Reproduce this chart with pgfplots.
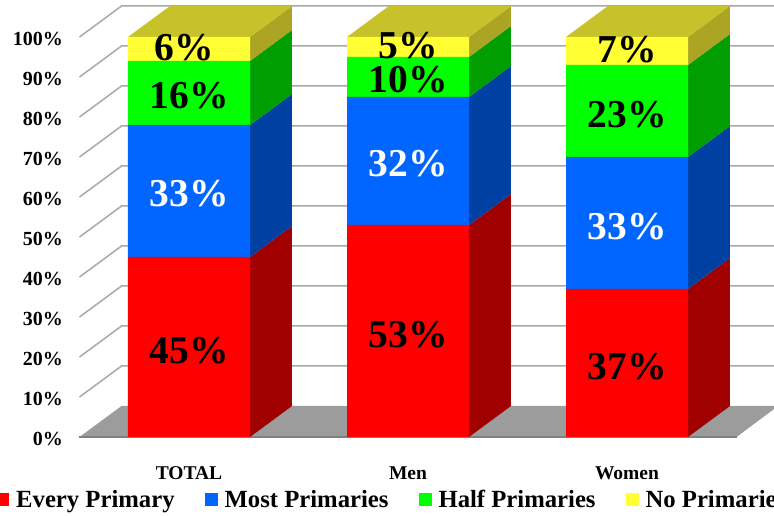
\documentclass[border=0pt]{standalone}
\usepackage{fontspec}
\setmainfont{Liberation Serif}
\usepackage{pgfplots}
\pgfplotsset{compat=1.18}

\definecolor{cred}{HTML}{FF0000}
\definecolor{cblue}{HTML}{0066FF}
\definecolor{cgreen}{HTML}{00FF00}
\definecolor{cyellow}{HTML}{FFFF33}
\definecolor{dred}{HTML}{A00000}
\definecolor{dblue}{HTML}{0040A3}
\definecolor{dgreen}{HTML}{009E00}
\definecolor{dyellow}{HTML}{ABA523}
\definecolor{ctop}{HTML}{C8C22A}
\definecolor{cfloor}{HTML}{9C9C9C}
\definecolor{cgrid}{HTML}{A8A8A8}

\newcommand{\fs}[1]{\fontsize{#1}{#1}\selectfont\bfseries}

\pgfplotsset{
    base/.style={
        at={(79.5pt,79pt)}, anchor=south west,
        scale only axis,
        width=657pt, height=431pt,
        xmin=-0.5, xmax=2.5,
        ymin=0, ymax=107.75,
        clip=false,
    },
}

\begin{document}
\begin{tikzpicture}
\path[use as bounding box,clip] (0pt,0pt) rectangle (774pt,516pt);

% floor, walls, side and top faces
\begin{axis}[
    base,
    axis line style={draw=none},
    major tick length=0pt,
    xtick={0,1,2},
    xticklabels={TOTAL,Men,Women},
    x tick label style={font=\fs{19.5}, yshift=-26pt},
    ytick={0,10,...,100},
    yticklabels={0\%,10\%,20\%,30\%,40\%,50\%,60\%,70\%,80\%,90\%,100\%},
    y tick label style={font=\fs{20}, xshift=-13pt, yshift=-2pt},
]
    \addplot[draw=none, fill=cfloor] coordinates {(-0.5,0)(-0.308,7.75)(2.69,7.75)(2.5,0)} -- cycle;
    \addplot[line width=2pt, color=gray] coordinates {(-0.5,0)(2.5,0)};

    \addplot[cgrid, line width=1.5pt] coordinates {(-0.5,10)(-0.308,17.75)(2.7,17.75)};
    \addplot[cgrid, line width=1.5pt] coordinates {(-0.5,20)(-0.308,27.75)(2.7,27.75)};
    \addplot[cgrid, line width=1.5pt] coordinates {(-0.5,30)(-0.308,37.75)(2.7,37.75)};
    \addplot[cgrid, line width=1.5pt] coordinates {(-0.5,40)(-0.308,47.75)(2.7,47.75)};
    \addplot[cgrid, line width=1.5pt] coordinates {(-0.5,50)(-0.308,57.75)(2.7,57.75)};
    \addplot[cgrid, line width=1.5pt] coordinates {(-0.5,60)(-0.308,67.75)(2.7,67.75)};
    \addplot[cgrid, line width=1.5pt] coordinates {(-0.5,70)(-0.308,77.75)(2.7,77.75)};
    \addplot[cgrid, line width=1.5pt] coordinates {(-0.5,80)(-0.308,87.75)(2.7,87.75)};
    \addplot[cgrid, line width=1.5pt] coordinates {(-0.5,90)(-0.308,97.75)(2.7,97.75)};
    \addplot[cgrid, line width=1.5pt] coordinates {(-0.5,100)(-0.308,107.75)(2.7,107.75)};

    % TOTAL sides
    \addplot[draw=none, fill=dred] coordinates {(0.2785,0)(0.4703,7.75)(0.4703,52.75)(0.2785,45)} -- cycle;
    \addplot[draw=none, fill=dblue] coordinates {(0.2785,45)(0.4703,52.75)(0.4703,85.75)(0.2785,78)} -- cycle;
    \addplot[draw=none, fill=dgreen] coordinates {(0.2785,78)(0.4703,85.75)(0.4703,101.75)(0.2785,94)} -- cycle;
    \addplot[draw=none, fill=dyellow] coordinates {(0.2785,94)(0.4703,101.75)(0.4703,107.75)(0.2785,100)} -- cycle;
    \addplot[draw=none, fill=ctop] coordinates {(-0.2785,100)(0.2785,100)(0.4703,107.75)(-0.0867,107.75)} -- cycle;

    % Men sides
    \addplot[draw=none, fill=dred] coordinates {(1.2785,0)(1.4703,7.75)(1.4703,60.75)(1.2785,53)} -- cycle;
    \addplot[draw=none, fill=dblue] coordinates {(1.2785,53)(1.4703,60.75)(1.4703,92.75)(1.2785,85)} -- cycle;
    \addplot[draw=none, fill=dgreen] coordinates {(1.2785,85)(1.4703,92.75)(1.4703,102.75)(1.2785,95)} -- cycle;
    \addplot[draw=none, fill=dyellow] coordinates {(1.2785,95)(1.4703,102.75)(1.4703,107.75)(1.2785,100)} -- cycle;
    \addplot[draw=none, fill=ctop] coordinates {(0.7215,100)(1.2785,100)(1.4703,107.75)(0.9133,107.75)} -- cycle;

    % Women sides
    \addplot[draw=none, fill=dred] coordinates {(2.2785,0)(2.4703,7.75)(2.4703,44.75)(2.2785,37)} -- cycle;
    \addplot[draw=none, fill=dblue] coordinates {(2.2785,37)(2.4703,44.75)(2.4703,77.75)(2.2785,70)} -- cycle;
    \addplot[draw=none, fill=dgreen] coordinates {(2.2785,70)(2.4703,77.75)(2.4703,100.75)(2.2785,93)} -- cycle;
    \addplot[draw=none, fill=dyellow] coordinates {(2.2785,93)(2.4703,100.75)(2.4703,107.75)(2.2785,100)} -- cycle;
    \addplot[draw=none, fill=ctop] coordinates {(1.7215,100)(2.2785,100)(2.4703,107.75)(1.9133,107.75)} -- cycle;
\end{axis}

% front faces and legend
\begin{axis}[
    base,
    hide axis,
    ybar stacked,
    bar width=122pt,
    legend columns=4,
    legend cell align=left,
    legend style={
        at={(-83.5pt,-63pt)}, anchor=west, draw=none, fill=none,
        font=\fs{24.7}, inner sep=0pt,
        /tikz/every even column/.append style={column sep=28pt},
    },
    legend image code/.code={\fill[#1] (0pt,-6.5pt) rectangle (13pt,6.5pt); \path (0pt,0pt) -- (18pt,0pt);},
]
    \addplot[draw=none, fill=cred] coordinates {(0,45)(1,53)(2,37)};
    \addplot[draw=none, fill=cblue] coordinates {(0,33)(1,32)(2,33)};
    \addplot[draw=none, fill=cgreen] coordinates {(0,16)(1,10)(2,23)};
    \addplot[draw=none, fill=cyellow] coordinates {(0,6)(1,5)(2,7)};
    \legend{Every Primary,Most Primaries,Half Primaries,No Primaries}
\end{axis}

% value labels on top of the bars
\begin{axis}[base, hide axis]
    \node[font=\fs{39.5}] at (axis cs:0,21.5) {45\%};
    \node[font=\fs{39.5}, text=white] at (axis cs:0,60.75) {33\%};
    \node[font=\fs{39.5}] at (axis cs:0,85.25) {16\%};
    \node[font=\fs{39.5}] at (axis cs:-0.02,97.25) {6\%};
    \node[font=\fs{39.5}] at (axis cs:1,25.5) {53\%};
    \node[font=\fs{39.5}, text=white] at (axis cs:1,68.25) {32\%};
    \node[font=\fs{39.5}] at (axis cs:1,89.25) {10\%};
    \node[font=\fs{39.5}] at (axis cs:1,97.75) {5\%};
    \node[font=\fs{39.5}] at (axis cs:2,17.5) {37\%};
    \node[font=\fs{39.5}, text=white] at (axis cs:2,52.5) {33\%};
    \node[font=\fs{39.5}] at (axis cs:2,80.5) {23\%};
    \node[font=\fs{39.5}] at (axis cs:2,96.75) {7\%};
\end{axis}
\end{tikzpicture}
\end{document}
